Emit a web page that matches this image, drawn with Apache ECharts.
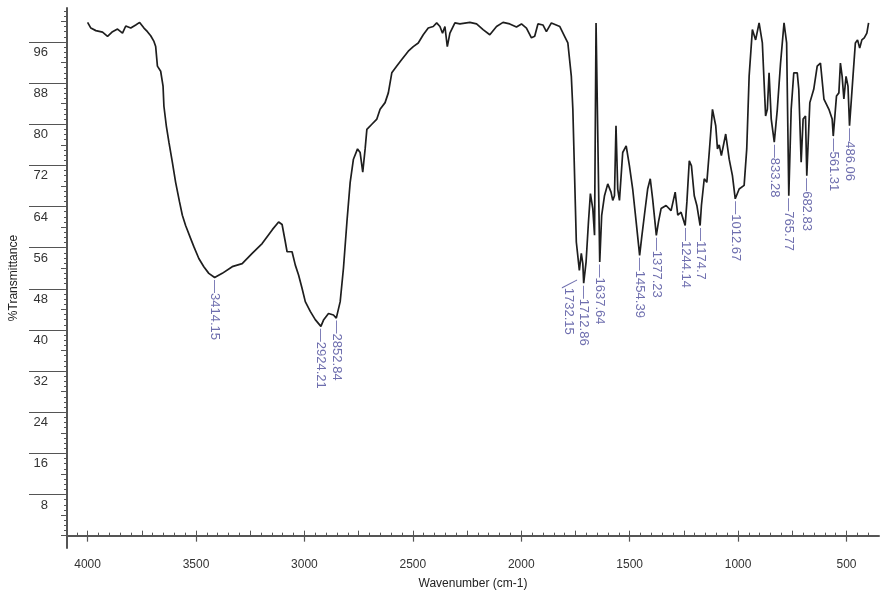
<!DOCTYPE html>
<html>
<head>
<meta charset="utf-8">
<script src="https://cdn.jsdelivr.net/npm/echarts@6/dist/echarts.min.js"></script>
<style>
html,body{margin:0;padding:0;background:#fff;}
#chart{width:883px;height:595px;}
</style>
</head>
<body>
<div id="chart"></div>
<script>
// Wavenumber (cm-1) and %Transmittance
const wavenumber = [4000,3985,3962,3931,3908,3885,3862,3839,3824,3801,3778,3760,3740,3724,3709,3694,3686,3678,3663,3652,3648,3637,3625,3609,3594,3576,3563,3548,3525,3510,3487,3464,3441,3414,3379,3333,3287,3241,3195,3148,3119,3103,3088,3080,3057,3042,3027,3011,2996,2973,2950,2924,2911,2889,2866,2853,2835,2820,2804,2789,2774,2755,2743,2731,2720,2712,2689,2666,2651,2628,2613,2597,2574,2551,2521,2498,2475,2452,2429,2406,2390,2375,2363,2352,2341,2329,2306,2283,2237,2206,2176,2145,2114,2084,2053,2022,1999,1976,1953,1938,1923,1900,1884,1861,1822,1800,1785,1769,1762,1754,1746,1732,1723,1716,1712,1701,1690,1681,1670,1662,1655,1638,1629,1616,1601,1586,1578,1570,1563,1555,1547,1532,1516,1501,1486,1470,1454,1445,1432,1417,1405,1394,1377,1367,1355,1332,1309,1290,1278,1263,1244,1236,1225,1215,1202,1190,1175,1169,1156,1144,1133,1118,1103,1095,1087,1077,1057,1041,1026,1013,995,972,960,949,934,919,903,888,873,865,857,847,833,819,804,788,776,766,755,743,727,720,709,700,689,683,669,651,635,620,604,581,566,561,546,535,528,520,512,502,493,486,470,459,449,439,429,418,406,398];
const transmittance = [99.8,98.7,98.2,97.9,97.1,98.0,98.5,97.7,99.1,98.7,99.3,99.8,98.7,98.0,97.2,96.1,95.1,91.3,90.3,87.4,83.5,79.7,76.5,72.6,68.7,64.9,62.3,60.3,57.8,56.2,53.9,52.3,51.0,50.2,51.0,52.3,52.9,54.9,56.8,59.5,61.0,60.5,57.1,55.2,55.2,52.6,50.7,48.1,45.5,43.6,42.0,40.7,42.0,43.2,42.9,42.3,45.5,52.0,61.0,68.7,73.2,75.2,74.5,70.7,75.2,79.0,80.0,81.0,82.9,84.2,86.1,90.0,91.3,92.6,94.2,95.1,95.8,97.4,98.7,99.0,99.7,99.0,97.7,99.0,95.1,97.7,99.7,99.5,99.8,99.5,98.4,97.4,99.0,99.8,99.5,98.9,99.5,98.7,96.8,97.1,99.5,99.3,98.0,99.7,99.0,97.1,95.8,89.3,82.9,70.0,57.1,51.6,54.9,52.9,49.1,53.2,61.0,66.5,63.6,58.4,99.7,53.2,62.3,66.1,68.4,66.8,65.2,66.1,79.7,67.4,65.2,74.5,75.8,71.9,67.4,61.0,54.5,57.8,62.3,67.4,69.4,65.5,58.4,61.0,63.6,64.2,63.2,66.8,62.3,62.9,60.3,64.9,72.9,71.9,66.1,64.2,60.3,64.2,69.4,68.7,74.5,82.9,79.7,75.2,76.0,73.9,78.1,73.2,70.0,65.5,67.4,68.1,75.2,89.3,98.4,96.4,99.7,95.8,81.6,82.9,90.0,81.0,76.5,82.9,91.9,99.7,95.8,66.1,82.9,90.0,90.0,86.8,72.6,81.0,81.6,70.0,84.2,86.8,91.3,91.9,84.9,82.9,81.0,77.7,85.5,86.1,91.9,89.3,84.9,89.3,87.4,79.7,89.3,95.8,96.4,94.8,96.4,96.8,97.7,99.7];

// Peak annotations
const peakLabels = ['3414.15','2924.21','2852.84','1732.15','1712.86','1637.64','1454.39','1377.23','1244.14','1174.7','1012.67','833.28','765.77','682.83','561.31','486.06'];
const peakWavenumber = [3414.15,2924.21,2852.84,1732.15,1712.86,1637.64,1454.39,1377.23,1244.14,1174.7,1012.67,833.28,765.77,682.83,561.31,486.06];
const peakTransmittance = [50.2,40.7,42.3,51.6,49.1,53.2,54.5,58.4,60.3,60.3,65.5,76.5,66.1,70.0,77.7,79.7];

// Axis ticks
const xTickValues = [4000,3500,3000,2500,2000,1500,1000,500];
const yTickValues = [8,16,24,32,40,48,56,64,72,80,88,96];
const xRange = [350, 4095];
const yRange = [-2.4, 102.6];

const xMinor = []; for (let v = 400; v <= 4050; v += 50) xMinor.push(v);
const xMid = []; for (let v = 500; v <= 4000; v += 250) xMid.push(v);
const yMinor = []; for (let v = 0; v <= 102; v += 1) yMinor.push(v);
const yMid = []; for (let v = 0; v <= 100; v += 4) yMid.push(v);

const FONT = '"Liberation Sans", Arial, sans-serif';
const AXIS_COLOR = '#555';

const lineData = wavenumber.map((w, i) => [w, transmittance[i]]);
const peakData = peakWavenumber.map((w, i) => {
  const item = { value: [w, peakTransmittance[i]], name: peakLabels[i] };
  if (peakLabels[i] === '1732.15') {
    // offset is applied in the rotated label frame: [along text (down), across text (left)]
    item.label = { formatter: '\u2572' + peakLabels[i], offset: [7, 11] };
  }
  return item;
});

function overlayX(values, len) {
  return {
    type: 'value', inverse: true, min: xRange[0], max: xRange[1],
    axisLine: { show: false }, axisLabel: { show: false }, splitLine: { show: false },
    axisTick: { show: true, length: len, customValues: values, lineStyle: { color: AXIS_COLOR, width: 1 } }
  };
}
function overlayY(values, len) {
  return {
    type: 'value', min: yRange[0], max: yRange[1], position: 'left',
    axisLine: { show: false }, axisLabel: { show: false }, splitLine: { show: false },
    axisTick: { show: true, length: len, customValues: values, lineStyle: { color: AXIS_COLOR, width: 1 } }
  };
}

const chart = echarts.init(document.getElementById('chart'), null, { renderer: 'canvas' });
chart.setOption({
  backgroundColor: '#fff',
  animation: false,
  grid: { left: 66, right: 4, top: 8, bottom: 44 },
  xAxis: [
    {
      type: 'value', inverse: true, min: xRange[0], max: xRange[1],
      name: 'Wavenumber (cm-1)', nameLocation: 'middle', nameGap: 30,
      nameTextStyle: { fontFamily: FONT, fontSize: 12, color: '#222' },
      axisLine: { show: true, lineStyle: { color: AXIS_COLOR, width: 2 } },
      axisTick: { show: true, length: 6, customValues: xTickValues, lineStyle: { color: AXIS_COLOR, width: 1.2 } },
      axisLabel: { customValues: xTickValues, formatter: v => String(v), margin: 11, fontFamily: FONT, fontSize: 12, color: '#333' },
      splitLine: { show: false }
    },
    overlayX(xMinor, 3),
    overlayX(xMid, 5)
  ],
  yAxis: [
    {
      type: 'value', min: yRange[0], max: yRange[1], position: 'left',
      name: '%Transmittance', nameLocation: 'middle', nameGap: 47, nameRotate: 90,
      nameTextStyle: { fontFamily: FONT, fontSize: 12, color: '#222' },
      axisLine: { show: true, lineStyle: { color: AXIS_COLOR, width: 2 } },
      axisTick: { show: true, length: 38, customValues: yTickValues, lineStyle: { color: AXIS_COLOR, width: 1.2 } },
      axisLabel: { customValues: yTickValues, formatter: v => String(v), margin: 19, fontFamily: FONT, fontSize: 13, color: '#333', verticalAlign: 'top', padding: [4, 0, 0, 0] },
      splitLine: { show: false }
    },
    overlayY(yMinor, 3),
    overlayY(yMid, 6)
  ],
  series: [
    {
      type: 'line', xAxisIndex: 0, yAxisIndex: 0,
      data: lineData, showSymbol: false, symbol: 'none',
      lineStyle: { color: '#1e1e1e', width: 1.7 }, smooth: false
    },
    {
      type: 'scatter', xAxisIndex: 0, yAxisIndex: 0,
      data: peakData, symbolSize: 1,
      itemStyle: { color: 'rgba(0,0,0,0)' },
      label: {
        show: true, position: 'bottom', distance: 2, rotate: -90,
        align: 'left', verticalAlign: 'middle',
        formatter: p => '\u2014' + p.name,
        fontFamily: FONT, fontSize: 13, color: '#4a4a9a'
      },
      z: 5
    }
  ]
});
</script>
</body>
</html>
